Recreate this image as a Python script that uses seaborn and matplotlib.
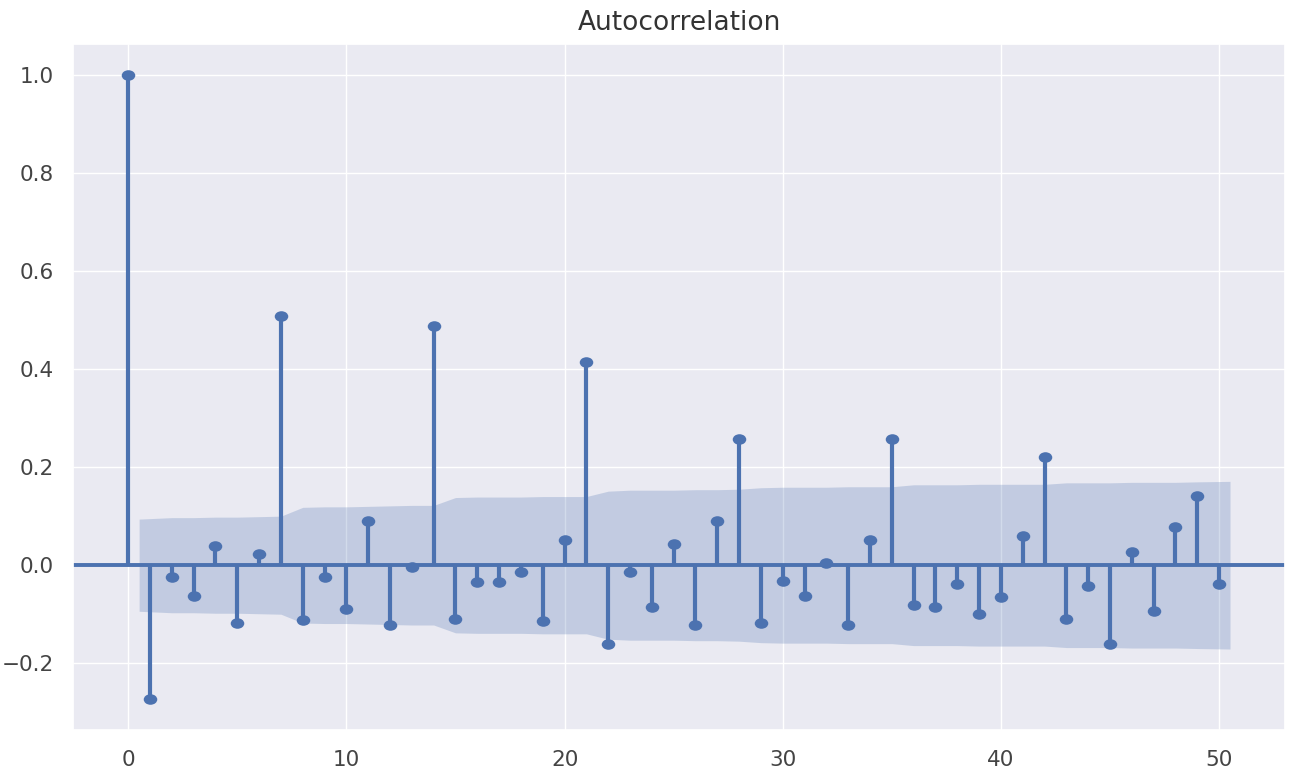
import numpy as np
import matplotlib
matplotlib.use("Agg")
import matplotlib.pyplot as plt
from matplotlib.path import Path
from matplotlib.transforms import Affine2D
import seaborn as sns

# autocorrelation values, lags 0..50
lags = list(range(51))
acf_vals = [1.000, -0.273, -0.024, -0.063, 0.039, -0.118, 0.022, 0.509, -0.112, -0.024,
            -0.090, 0.090, -0.122, -0.003, 0.487, -0.110, -0.035, -0.035, -0.014, -0.114,
            0.051, 0.415, -0.161, -0.014, -0.086, 0.043, -0.122, 0.090, 0.257, -0.118,
            -0.033, -0.063, 0.004, -0.122, 0.051, 0.257, -0.081, -0.086, -0.039, -0.100,
            -0.065, 0.059, 0.220, -0.110, -0.043, -0.161, 0.026, -0.094, 0.077, 0.141,
            -0.039]

# half width of the confidence band, lags 1..50
conf_half = [0.094, 0.097, 0.097, 0.098, 0.098, 0.099, 0.100, 0.118, 0.119, 0.119,
             0.120, 0.121, 0.122, 0.122, 0.138, 0.139, 0.139, 0.139, 0.140, 0.140,
             0.140, 0.151, 0.153, 0.153, 0.153, 0.154, 0.154, 0.155, 0.158, 0.159,
             0.159, 0.159, 0.160, 0.160, 0.160, 0.164, 0.164, 0.164, 0.165, 0.165,
             0.165, 0.165, 0.168, 0.168, 0.168, 0.169, 0.169, 0.169, 0.170, 0.171]

sns.set_theme(style="darkgrid")
color = sns.color_palette("deep")[0]

fig, ax = plt.subplots(figsize=(13.06, 7.81), dpi=100)
fig.subplots_adjust(left=0.056, right=0.984, top=0.944, bottom=0.065)

# band stretches half a lag past the first and last lag, like statsmodels
band_x = np.array(lags[1:], dtype=float)
band_x[0] -= 0.5
band_x[-1] += 0.5
conf = np.array(conf_half)
ax.fill_between(band_x, -conf, conf, color=color, alpha=0.25, linewidth=0)

ax.axhline(0, color=color, linewidth=2.8, zorder=1)
ax.vlines(lags, [0], acf_vals, color=color, linewidth=3.0, zorder=2)

# slightly flattened dots, as in the reference
oval = Path.unit_circle().transformed(Affine2D().scale(1.0, 0.78))
sns.scatterplot(x=lags, y=acf_vals, ax=ax, color=color, s=95, marker=oval,
                linewidth=0, zorder=3)

ax.set_xticks([0, 10, 20, 30, 40, 50])
ax.set_yticks([-0.2, 0.0, 0.2, 0.4, 0.6, 0.8, 1.0])
ax.tick_params(labelsize=15.5, pad=8, labelcolor="#444444")
ax.set_title("Autocorrelation", fontsize=19, pad=10, color="#333333")

fig.savefig("out.png", dpi=100)
